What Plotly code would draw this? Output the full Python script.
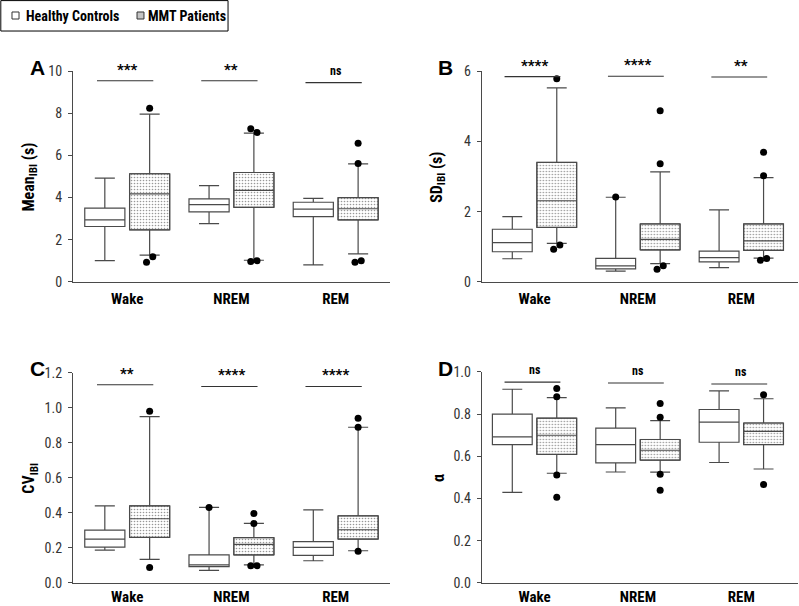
import plotly.graph_objects as go
from plotly.subplots import make_subplots

categories = ["Wake", "NREM", "REM"]
groups = ["Healthy Controls", "MMT Patients"]

# A: Mean IBI (s)
hc_mean_q1 = [2.63, 3.32, 3.10]
hc_mean_med = [2.94, 3.67, 3.45]
hc_mean_q3 = [3.50, 3.94, 3.78]
hc_mean_lo = [1.01, 2.77, 0.81]
hc_mean_hi = [4.92, 4.57, 3.96]
hc_mean_out = [[], [], []]
mmt_mean_q1 = [2.47, 3.54, 2.94]
mmt_mean_med = [4.18, 4.34, 3.47]
mmt_mean_q3 = [5.13, 5.19, 4.00]
mmt_mean_lo = [1.27, 1.03, 1.33]
mmt_mean_hi = [7.96, 7.06, 5.60]
mmt_mean_out = [[8.23, 1.20, 0.93], [7.26, 7.09, 0.97, 1.01], [6.58, 5.62, 0.93, 1.01]]
sig_mean = ["***", "**", "ns"]
sig_mean_y = [9.54, 9.54, 9.45]

# B: SD IBI (s)
hc_sd_q1 = [0.86, 0.37, 0.57]
hc_sd_med = [1.12, 0.46, 0.69]
hc_sd_q3 = [1.50, 0.67, 0.88]
hc_sd_lo = [0.66, 0.31, 0.41]
hc_sd_hi = [1.86, 2.41, 2.05]
hc_sd_out = [[], [2.42], []]
mmt_sd_q1 = [1.55, 0.91, 0.90]
mmt_sd_med = [2.31, 1.21, 1.17]
mmt_sd_q3 = [3.40, 1.65, 1.65]
mmt_sd_lo = [1.10, 0.52, 0.68]
mmt_sd_hi = [5.52, 3.13, 2.97]
mmt_sd_out = [[5.78, 1.05, 0.93], [4.87, 3.36, 0.46, 0.36], [3.69, 3.02, 0.67, 0.62]]
sig_sd = ["****", "****", "**"]
sig_sd_y = [5.84, 5.85, 5.83]

# C: CV IBI
hc_cv_q1 = [0.205, 0.093, 0.158]
hc_cv_med = [0.251, 0.103, 0.203]
hc_cv_q3 = [0.302, 0.160, 0.236]
hc_cv_lo = [0.188, 0.072, 0.127]
hc_cv_hi = [0.441, 0.432, 0.418]
hc_cv_out = [[], [0.432], []]
mmt_cv_q1 = [0.260, 0.160, 0.251]
mmt_cv_med = [0.367, 0.221, 0.304]
mmt_cv_q3 = [0.441, 0.259, 0.384]
mmt_cv_lo = [0.135, 0.103, 0.184]
mmt_cv_hi = [0.951, 0.340, 0.890]
mmt_cv_out = [[0.981, 0.089], [0.397, 0.340, 0.099, 0.099], [0.941, 0.890, 0.181]]
sig_cv = ["**", "****", "****"]
sig_cv_y = [1.133, 1.123, 1.123]

# D: alpha
hc_a_q1 = [0.656, 0.569, 0.667]
hc_a_med = [0.692, 0.656, 0.762]
hc_a_q3 = [0.800, 0.734, 0.822]
hc_a_lo = [0.429, 0.526, 0.571]
hc_a_hi = [0.918, 0.830, 0.910]
hc_a_out = [[], [], []]
mmt_a_q1 = [0.609, 0.582, 0.656]
mmt_a_med = [0.700, 0.629, 0.718]
mmt_a_q3 = [0.781, 0.680, 0.758]
mmt_a_lo = [0.520, 0.525, 0.540]
mmt_a_hi = [0.878, 0.769, 0.873]
mmt_a_out = [[0.922, 0.883, 0.512, 0.406], [0.851, 0.785, 0.515, 0.439], [0.892, 0.467]]
sig_a = ["ns", "ns", "ns"]
sig_a_y = [0.952, 0.948, 0.943]

NARROW = "Liberation Sans Narrow, Arial Narrow, Roboto Condensed, Liberation Sans, Arial, sans-serif"
LINE = "#4a4a4a"
OFF = 0.215  # box offset from category centre
BW = 0.385  # box width

fig = make_subplots(rows=2, cols=2)


def jitter(vals, med, span):
    # close pairs of outliers get pushed left/right a bit
    xs = [0.0] * len(vals)
    for i in range(len(vals) - 1):
        if abs(vals[i] - vals[i + 1]) < 0.03 * span:
            far, near = (i, i + 1) if abs(vals[i] - med) >= abs(vals[i + 1] - med) else (i + 1, i)
            xs[far] = -0.03
            xs[near] = 0.03
    return xs


def add_panel(row, col, hc, mmt, hc_out, mmt_out, sig, sig_y, span):
    pos = list(range(len(categories)))
    hc_x = [p - OFF for p in pos]
    mmt_x = [p + OFF for p in pos]

    # dotted fill for MMT boxes
    fig.add_trace(
        go.Bar(
            x=mmt_x, base=mmt[0], y=[b - a for a, b in zip(mmt[0], mmt[2])],
            width=BW, name=groups[1], showlegend=False,
            marker=dict(color="white", line=dict(color=LINE, width=1),
                        pattern=dict(shape=".", fgcolor="#2a2a2a", bgcolor="white",
                                     size=3, solidity=0.22)),
            hoverinfo="skip",
        ),
        row=row, col=col,
    )
    for x, s, fill, name in [
        (hc_x, hc, "white", groups[0]),
        (mmt_x, mmt, "rgba(0,0,0,0)", groups[1]),
    ]:
        fig.add_trace(
            go.Box(
                x=x, q1=s[0], median=s[1], q3=s[2], lowerfence=s[3], upperfence=s[4],
                width=BW, whiskerwidth=0.5, fillcolor=fill,
                line=dict(color=LINE, width=1.2), boxpoints=False,
                name=name, showlegend=False,
            ),
            row=row, col=col,
        )
    # outliers
    ox, oy = [], []
    for xs, outs, meds in [(hc_x, hc_out, hc[1]), (mmt_x, mmt_out, mmt[1])]:
        for i, vals in enumerate(outs):
            for v, j in zip(vals, jitter(vals, meds[i], span)):
                ox.append(xs[i] + j)
                oy.append(v)
    fig.add_trace(
        go.Scatter(x=ox, y=oy, mode="markers", showlegend=False,
                   marker=dict(color="black", size=7)),
        row=row, col=col,
    )
    # significance bars
    lx, ly = [], []
    for p, h in zip(pos, sig_y):
        lx += [p - 0.29, p + 0.25, None]
        ly += [h, h, None]
    fig.add_trace(
        go.Scatter(x=lx, y=ly, mode="lines", showlegend=False, cliponaxis=False,
                   line=dict(color="#333333", width=1.1)),
        row=row, col=col,
    )
    idx = "" if (row, col) == (1, 1) else str((row - 1) * 2 + col)
    for p, h, t in zip(pos, sig_y, sig):
        fig.add_annotation(
            x=p, y=h, xref="x" + idx, yref="y" + idx, text=t, showarrow=False,
            xanchor="center", yanchor="bottom", yshift=3 if t == "ns" else 0,
            font=dict(family=NARROW, size=12 if t == "ns" else 15, color="black",
                      weight="bold"),
        )


add_panel(1, 1, [hc_mean_q1, hc_mean_med, hc_mean_q3, hc_mean_lo, hc_mean_hi],
          [mmt_mean_q1, mmt_mean_med, mmt_mean_q3, mmt_mean_lo, mmt_mean_hi],
          hc_mean_out, mmt_mean_out, sig_mean, sig_mean_y, 10)
add_panel(1, 2, [hc_sd_q1, hc_sd_med, hc_sd_q3, hc_sd_lo, hc_sd_hi],
          [mmt_sd_q1, mmt_sd_med, mmt_sd_q3, mmt_sd_lo, mmt_sd_hi],
          hc_sd_out, mmt_sd_out, sig_sd, sig_sd_y, 6)
add_panel(2, 1, [hc_cv_q1, hc_cv_med, hc_cv_q3, hc_cv_lo, hc_cv_hi],
          [mmt_cv_q1, mmt_cv_med, mmt_cv_q3, mmt_cv_lo, mmt_cv_hi],
          hc_cv_out, mmt_cv_out, sig_cv, sig_cv_y, 1.2)
add_panel(2, 2, [hc_a_q1, hc_a_med, hc_a_q3, hc_a_lo, hc_a_hi],
          [mmt_a_q1, mmt_a_med, mmt_a_q3, mmt_a_lo, mmt_a_hi],
          hc_a_out, mmt_a_out, sig_a, sig_a_y, 1.0)

# axes
fig.update_xaxes(
    tickvals=list(range(len(categories))), ticktext=categories, automargin=False,
    showline=True, linecolor=LINE, linewidth=1.2, ticks="", showgrid=False,
    zeroline=False, ticklabelstandoff=3,
    tickfont=dict(family=NARROW, size=15, color="black", weight="bold"),
)
fig.update_yaxes(
    showline=True, linecolor=LINE, linewidth=1.2, ticks="outside", ticklen=4,
    tickcolor=LINE, showgrid=False, zeroline=False, ticklabelstandoff=3, automargin=False,
    tickfont=dict(family=NARROW, size=14, color="#333333"),
)
fig.update_layout(
    xaxis=dict(domain=[0.0914, 0.488], range=[-0.52, 2.52]),
    xaxis2=dict(domain=[0.603, 0.999], range=[-0.51, 2.55]),
    xaxis3=dict(domain=[0.0914, 0.488], range=[-0.52, 2.52], ticklabelstandoff=0),
    xaxis4=dict(domain=[0.603, 0.999], range=[-0.51, 2.55], ticklabelstandoff=0),
    yaxis=dict(domain=[0.5347, 0.8828], range=[0, 10], dtick=2),
    yaxis2=dict(domain=[0.5347, 0.8828], range=[0, 6], dtick=2),
    yaxis3=dict(domain=[0.038, 0.3845], range=[0, 1.2], dtick=0.2, tickformat=".1f"),
    yaxis4=dict(domain=[0.038, 0.3862], range=[0, 1.0], dtick=0.2, tickformat=".1f"),
)

# panel letters and y titles
for letter, x, y in [("A", 0.047, 0.889), ("B", 0.558, 0.889),
                     ("C", 0.047, 0.392), ("D", 0.558, 0.392)]:
    fig.add_annotation(x=x, y=y, xref="paper", yref="paper", text=letter,
                       xanchor="center", yanchor="middle", showarrow=False,
                       font=dict(family="Liberation Sans, Arial", size=21,
                                 color="black", weight="bold"))
for t, x, y in [("Mean<sub>IBI</sub> (s)", 0.037, 0.708), ("SD<sub>IBI</sub> (s)", 0.548, 0.708),
                ("CV<sub>IBI</sub>", 0.037, 0.211), ("α", 0.548, 0.211)]:
    fig.add_annotation(x=x, y=y, xref="paper", yref="paper", text=t, textangle=-90,
                       xanchor="center", yanchor="middle", showarrow=False,
                       font=dict(family=NARROW, size=16, color="black", weight="bold"))

# legend box at top left
fig.add_shape(type="rect", xref="paper", yref="paper", x0=0.001, x1=0.2854,
              y0=0.9488, y1=0.999, line=dict(color="black", width=1), fillcolor="white")
for (x0, x1, fill), name, tx in zip(
    [(0.015, 0.0238, "white"), (0.1715, 0.1802, "#c4c4c4")], groups, [0.030, 0.1827]
):
    fig.add_shape(type="rect", xref="paper", yref="paper", x0=x0, x1=x1,
                  y0=0.9686, y1=0.9802, line=dict(color="#333333", width=1), fillcolor=fill)
    fig.add_annotation(x=tx, y=0.9744, xref="paper", yref="paper", text=name,
                       xanchor="left", yanchor="middle", showarrow=False,
                       font=dict(family=NARROW, size=14, color="black", weight="bold"))

fig.update_layout(
    width=799, height=606, margin=dict(l=0, r=0, t=0, b=0, autoexpand=False),
    plot_bgcolor="white", paper_bgcolor="white",
    barmode="overlay", boxmode="overlay", showlegend=False,
)

fig.write_html("out.html", config={"displayModeBar": False},
               post_script="document.body.style.margin = '0px';")
